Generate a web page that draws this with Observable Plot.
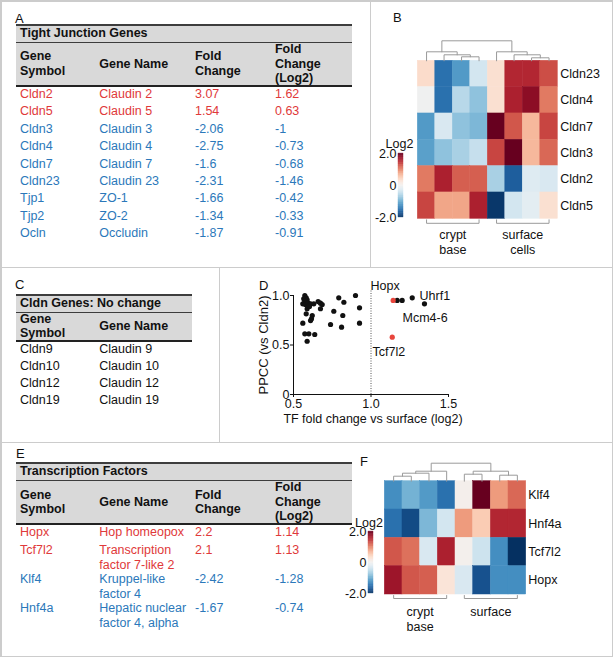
<!DOCTYPE html>
<html><head><meta charset="utf-8">
<script src="https://cdn.jsdelivr.net/npm/d3@7"></script>
<script src="https://cdn.jsdelivr.net/npm/@observablehq/plot@0.6"></script>
<style>
body{margin:0;background:#fff;font-family:"Liberation Sans",Arial,Helvetica,sans-serif;}
#fig{position:relative;width:613px;height:657px;overflow:hidden;background:#fff;}
.ln{position:absolute;background:#cccccc;}
.lab{position:absolute;font-size:13px;line-height:13px;color:#111;}
</style></head><body><div id="fig"></div>
<script>
// ---------- DATA ----------
// Panel A: tight junction genes
const tjSymbols = ["Cldn2","Cldn5","Cldn3","Cldn4","Cldn7","Cldn23","Tjp1","Tjp2","Ocln"];
const tjNames = ["Claudin 2","Claudin 5","Claudin 3","Claudin 4","Claudin 7","Claudin 23","ZO-1","ZO-2","Occludin"];
const tjFold = [3.07,1.54,-2.06,-2.75,-1.6,-2.31,-1.66,-1.34,-1.87];
const tjLog2 = [1.62,0.63,-1,-0.73,-0.68,-1.46,-0.42,-0.33,-0.91];
const fcHeaders = [["Gene","Symbol"],["Gene Name"],["Fold","Change"],["Fold","Change","(Log2)"]];

// Panel B: heatmap (rows = genes, columns = 4 crypt base + 4 surface samples)
const bRows = ["Cldn23","Cldn4","Cldn7","Cldn3","Cldn2","Cldn5"];
const bValues = [
  [0.35,-1.5,-1.15,-0.35,0.3,1.55,1.55,1.3],
  [-0.05,-1.5,-0.55,-0.8,0.3,1.6,1.8,1.05],
  [-1.15,-0.3,-0.8,-0.9,2.0,1.25,0.65,1.35],
  [-1.1,-0.8,-0.65,-0.45,1.35,2.0,0.65,1.15],
  [1.05,1.6,1.2,1.2,-0.65,-1.65,-0.25,-0.3],
  [1.35,0.78,0.78,1.6,-1.95,-0.35,-0.2,0.3]
];
const bGroupLabels = ["crypt\nbase","surface\ncells"];
// column dendrogram merges: [childA, childB, height]; ids >= 8 are earlier merges
const bMerges = [[2,3,4],[1,8,6],[0,9,9],[6,7,3],[5,11,6],[4,12,9],[10,13,20]];

// Panel C
const cSymbols = ["Cldn9","Cldn10","Cldn12","Cldn19"];
const cNames = ["Claudin 9","Claudin 10","Claudin 12","Claudin 19"];

// Panel D: scatter
const dBlackX = [0.573,0.582,0.566,0.588,0.573,0.560,0.577,0.595,0.610,0.631,0.659,0.674,0.685,0.588,0.603,0.621,0.616,0.610,0.582,0.674,0.560,0.573,0.599,0.637,0.588,0.792,0.825,0.760,0.818,0.739,0.810,0.900,0.926,0.926,1.169,1.201,1.266,1.345];
const dBlackY = [1.00,0.977,0.967,0.957,0.942,0.916,0.909,0.922,0.916,0.916,0.939,0.922,0.909,0.866,0.889,0.798,0.765,0.747,0.815,0.866,0.720,0.613,0.613,0.606,0.538,0.977,0.932,0.841,0.798,0.707,0.680,1.00,0.876,0.720,0.95,0.95,0.977,0.916];
const dRedX = [1.143,1.137];
const dRedY = [0.95,0.579];
const dLabels = ["Hopx","Uhrf1","Mcm4-6","Tcf7l2"];
const dLabelX = [0.997,1.313,1.203,1.01];
const dLabelY = [1.10,0.99,0.768,0.434];
const dXTicks = [0.5,1.0,1.5];
const dYTicks = [0,0.5,1.0];

// Panel E
const tfSymbols = ["Hopx","Tcf7l2","Klf4","Hnf4a"];
const tfNames = ["Hop homeopox","Transcription factor 7-like 2","Kruppel-like factor 4","Hepatic nuclear factor 4, alpha"];
const tfFold = [2.2,2.1,-2.42,-1.67];
const tfLog2 = [1.14,1.13,-1.28,-0.74];

// Panel F
const fRows = ["Klf4","Hnf4a","Tcf7l2","Hopx"];
const fValues = [
  [-1.25,-0.95,-1.15,-1.5,0.05,2.0,0.85,1.15],
  [-1.5,-1.8,-0.9,-0.35,0.85,0.5,1.55,1.55],
  [1.25,1.1,-0.3,1.6,0.03,-0.4,-1.25,-2.0],
  [1.7,1.25,1.2,0.25,-0.3,-1.75,-1.25,-1.25]
];
const fGroupLabels = ["crypt\nbase","surface"];
const fMerges = [[0,1,5],[8,2,8],[9,3,10],[4,5,7],[6,7,6],[11,12,10],[10,13,18]];

const cbTicks = [-2,0,2];

// ---------- LAYOUT ----------
const fig = document.getElementById("fig");
const FONT = '"Liberation Sans", Arial, Helvetica, sans-serif';
const RED = "#e0393a", BLUE = "#2b78ba";
const style = {background:"transparent", fontFamily:FONT, fontSize:"12.5px", color:"#111", overflow:"visible"};
const colorOpts = {type:"linear", domain:[-2,2], scheme:"RdBu", reverse:true, clamp:true};

function place(el, left, top) {
  el.style.position = "absolute"; el.style.left = left + "px"; el.style.top = top + "px";
  fig.appendChild(el);
}
function line(l, t, w, h) { const d = document.createElement("div"); d.className = "ln"; d.style.cssText = `left:${l}px;top:${t}px;width:${w}px;height:${h}px;`; fig.appendChild(d); }
function letter(txt, l, t) { const d = document.createElement("div"); d.className = "lab"; d.textContent = txt; d.style.left = l + "px"; d.style.top = t + "px"; fig.appendChild(d); }

// panel borders
line(0,0,613,1.5); line(0,655.5,613,1.5); line(0,0,1.5,657); line(611.5,0,1.5,657);
line(0,266.5,613,1.5); line(0,441.5,613,1.5);
line(369.5,0,1.5,267); line(218.5,267,1.5,175);

letter("A",15,11.5); letter("B",393,10.5); letter("C",15,277.5); letter("D",259,278.5); letter("E",16,446.5); letter("F",360,455);

function makeTable(o) {
  const g = document.createElement("div");
  g.style.cssText = `position:absolute;left:${o.left}px;top:${o.top}px;display:grid;grid-template-columns:${o.widths.map(w => w + "px").join(" ")};font-size:12.5px;color:#111;`;
  const t = document.createElement("div");
  t.textContent = o.title;
  t.style.cssText = `grid-column:1 / -1;box-sizing:border-box;height:${o.titleH}px;background:#d9d9d9;border-top:2px solid #3d3d3d;border-bottom:1.5px solid #3d3d3d;font-weight:bold;padding-left:4px;line-height:15px;white-space:nowrap;`;
  g.appendChild(t);
  o.headers.forEach(lines => {
    const h = document.createElement("div");
    h.style.cssText = `box-sizing:border-box;height:${o.headH}px;background:#d9d9d9;border-bottom:2px solid #222;display:flex;align-items:center;padding-left:4px;font-weight:bold;line-height:14.5px;white-space:nowrap;`;
    const s = document.createElement("div");
    lines.forEach((ln, i) => { if (i) s.appendChild(document.createElement("br")); s.appendChild(document.createTextNode(ln)); });
    h.appendChild(s); g.appendChild(h);
  });
  o.rows.forEach(r => r.cells.forEach(c => {
    const d = document.createElement("div");
    d.textContent = c;
    d.style.cssText = `box-sizing:border-box;min-height:${o.rowH}px;padding-left:4px;padding-right:2px;line-height:${o.lineH}px;color:${r.color};`;
    g.appendChild(d);
  }));
  fig.appendChild(g);
}
const signColor = v => v > 0 ? RED : BLUE;

makeTable({left:16, top:24, widths:[79.3,95.7,80,81], title:"Tight Junction Genes", headers:fcHeaders,
  titleH:18.5, headH:44.5, rowH:17.4, lineH:14,
  rows: tjSymbols.map((s,i) => ({color: signColor(tjFold[i]), cells:[s, tjNames[i], String(tjFold[i]), String(tjLog2[i])]}))});
makeTable({left:16, top:294, widths:[79.3,96.7], title:"Cldn Genes: No change", headers:fcHeaders.slice(0,2),
  titleH:18.5, headH:29.5, rowH:17, lineH:14,
  rows: cSymbols.map((s,i) => ({color:"#111", cells:[s, cNames[i]]}))});
makeTable({left:16, top:462.3, widths:[79.3,95.7,80,81], title:"Transcription Factors", headers:fcHeaders,
  titleH:18.5, headH:44.5, rowH:18, lineH:14.5,
  rows: tfSymbols.map((s,i) => ({color: signColor(tfFold[i]), cells:[s, tfNames[i], String(tfFold[i]), String(tfLog2[i])]}))});

// ---------- heatmaps ----------
function dendroSegments(merges, n) {
  const pos = d3.range(n).map(i => i + 0.5), ht = d3.range(n).map(() => 0), segs = [];
  merges.forEach(([a, b, h], k) => {
    const id = n + k;
    segs.push({id, x: pos[a], y: ht[a]}, {id, x: pos[a], y: h}, {id, x: pos[b], y: h}, {id, x: pos[b], y: ht[b]});
    pos[id] = (pos[a] + pos[b]) / 2; ht[id] = h;
  });
  return segs;
}

function heatmapPanel(o) {
  const nRows = o.rows.length, nCols = o.values[0].length;
  const cells = o.values.flatMap((r, i) => r.map((v, j) => ({row: i, col: j, value: v})));
  const xr = [o.box[0] - o.left, o.box[1] - o.left];
  const yr = [o.box[2] - o.top, o.box[3] - o.top];
  const rowPx = (yr[1] - yr[0]) / nRows;
  const groups = o.groupLabels.map((label, k) => ({label, from: k * 4, to: k * 4 + 3}));
  const yT = nRows + o.bracket[0] / rowPx, yB = nRows + o.bracket[1] / rowPx;
  const br = groups.flatMap((g, k) => [{k, x: g.from + 0.5, y: yT}, {k, x: g.from + 0.5, y: yB}, {k, x: g.to + 0.5, y: yB}, {k, x: g.to + 0.5, y: yT}]);
  const heat = Plot.plot({
    width: o.width, height: o.height, margin: 0, style,
    x: {domain: [0, nCols], range: xr, axis: null},
    y: {domain: [0, nRows], range: yr, axis: null},
    color: colorOpts,
    marks: [
      Plot.rect(cells, {x1: "col", x2: d => d.col + 1, y1: "row", y2: d => d.row + 1, fill: "value", stroke: "value", strokeWidth: 0.5, inset: 0}),
      Plot.text(o.rows, {x: () => nCols, y: (d, i) => i + 0.5, text: d => d, textAnchor: "start", dx: o.labelDx, fill: "#111"}),
      Plot.line(br, {x: "x", y: "y", z: "k", stroke: "#9a9a9a", strokeWidth: 1}),
      Plot.text(groups, {x: g => (g.from + g.to) / 2 + 0.5, y: () => nRows, text: "label", lineAnchor: "top", dy: o.groupDy, lineHeight: o.lineHeight, fill: "#111"})
    ]
  });
  place(heat, o.left, o.top);
  const segs = dendroSegments(o.merges, nCols);
  const hMax = d3.max(o.merges, m => m[2]);
  const dendro = Plot.plot({
    width: o.width, height: o.height, margin: 0, style,
    x: {domain: [0, nCols], range: xr, axis: null},
    y: {domain: [0, hMax], range: [yr[0], yr[0] - hMax], axis: null},
    marks: [Plot.line(segs, {x: "x", y: "y", z: "id", stroke: "#9a9a9a", strokeWidth: 1})]
  });
  place(dendro, o.left, o.top);
  // colour bar
  const step = 0.04;
  const ramp = d3.range(-2, 2 - 1e-9, step);
  const cb = o.cbar;
  const cbPlot = Plot.plot({
    width: 80, height: 110, marginLeft: cb.x0 - cb.left, marginRight: 80 - (cb.x1 - cb.left),
    marginTop: cb.y0 - cb.top, marginBottom: 110 - (cb.y1 - cb.top), style,
    x: {domain: [0, 1], axis: null},
    y: {domain: [-2, 2], ticks: cbTicks, tickFormat: d => d === 0 ? "0" : d.toFixed(1), tickSize: 0, tickPadding: 2, label: null},
    color: colorOpts,
    marks: [
      Plot.rect(ramp, {x1: () => 0, x2: () => 1, y1: d => d, y2: d => d + step, fill: d => d + step / 2, stroke: d => d + step / 2, strokeWidth: 0.3}),
      Plot.text(["Log2"], {frameAnchor: "top", lineAnchor: "middle", textAnchor: "middle", dy: cb.logDy, dx: cb.logDx, text: d => d, fill: "#111"})
    ]
  });
  place(cbPlot, cb.left, cb.top);
}

heatmapPanel({left: 370, top: 30, width: 242, height: 232, box: [417.3, 557.3, 60.3, 218.3],
  rows: bRows, values: bValues, groupLabels: bGroupLabels, merges: bMerges,
  labelDx: 2.5, bracket: [1, 4.5], groupDy: 9.5, lineHeight: 1.2,
  cbar: {left: 340, top: 120, x0: 398, x1: 403, y0: 153, y1: 217, logDy: -10, logDx: -1.5}});

heatmapPanel({left: 370, top: 450, width: 242, height: 200, box: [384.3, 525.7, 480.7, 594],
  rows: fRows, values: fValues, groupLabels: fGroupLabels, merges: fMerges,
  labelDx: 2, bracket: [1, 4], groupDy: 11.5, lineHeight: 1.16,
  cbar: {left: 310, top: 500, x0: 368, x1: 373, y0: 531, y1: 593, logDy: -9, logDx: -2}});

// ---------- scatter D ----------
const black = dBlackX.map((x, i) => ({x, y: dBlackY[i]}));
const red = dRedX.map((x, i) => ({x, y: dRedY[i]}));
const labs = dLabels.map((t, i) => ({t, x: dLabelX[i], y: dLabelY[i]}));
const scatter = Plot.plot({
  width: 392, height: 174, marginLeft: 73, marginRight: 164, marginTop: 27, marginBottom: 48, style,
  x: {domain: [0.5, 1.5], ticks: dXTicks, tickFormat: d => d.toFixed(1), tickSize: 3, tickPadding: 2, label: null},
  y: {domain: [0, 1], ticks: dYTicks, tickFormat: d => d === 0 ? "0" : d.toFixed(1), tickSize: 3, tickPadding: 1, label: null},
  marks: [
    Plot.ruleX([1], {y1: () => 0, y2: () => 1.06, stroke: "#555", strokeDasharray: "1,1.5"}),
    Plot.ruleY([0], {x1: () => 0.5, x2: () => 1.5, stroke: "#111"}),
    Plot.ruleX([0.5], {y1: () => 0, y2: () => 1, stroke: "#111"}),
    Plot.dot(black, {x: "x", y: "y", r: 2.6, fill: "#111"}),
    Plot.dot(red, {x: "x", y: "y", r: 2.6, fill: "#e8453c"}),
    Plot.text(labs, {x: "x", y: "y", text: "t", textAnchor: "start", fill: "#111"}),
    Plot.text(["TF fold change vs surface (log2)"], {frameAnchor: "bottom", lineAnchor: "middle", textAnchor: "middle", dy: 24, dx: 2, text: d => d, fill: "#111"}),
    Plot.text(["PPCC (vs Cldn2)"], {frameAnchor: "left", lineAnchor: "middle", textAnchor: "middle", rotate: -90, dx: -30, text: d => d, fontSize: 13, fill: "#111"})
  ]
});
place(scatter, 220, 268);
</script>
</body></html>
